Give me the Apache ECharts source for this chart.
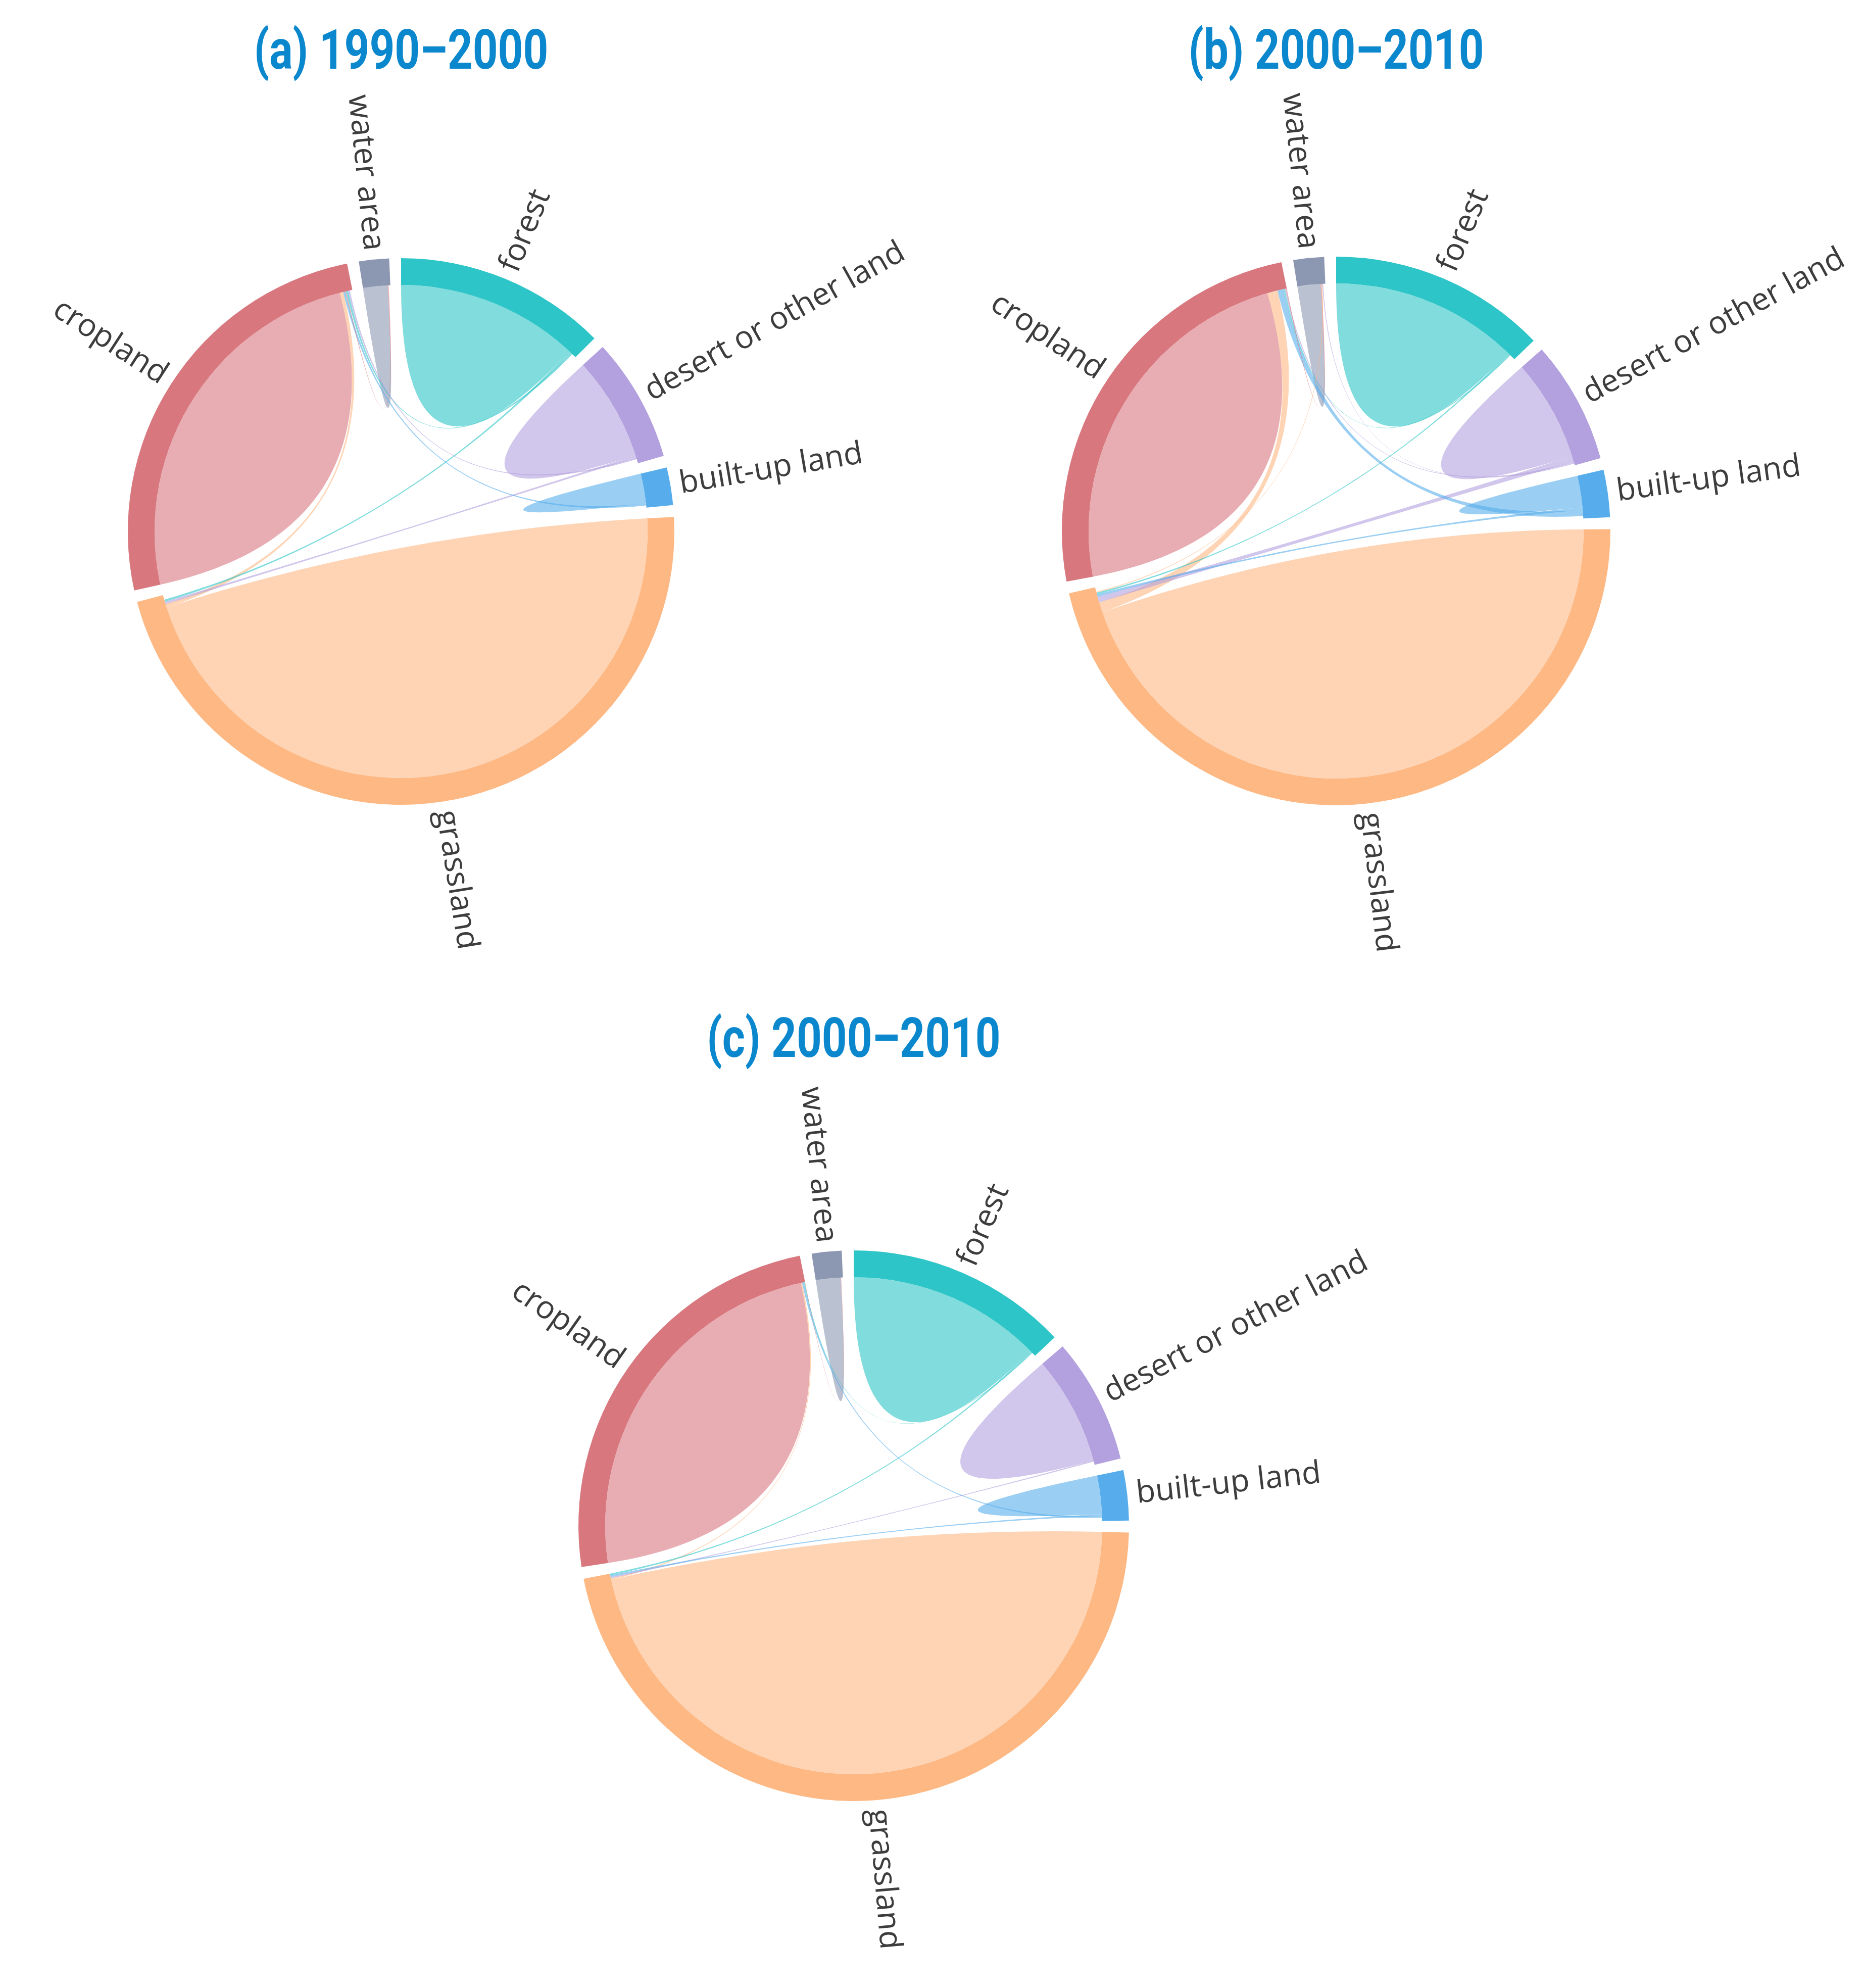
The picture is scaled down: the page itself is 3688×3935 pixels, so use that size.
<!DOCTYPE html>
<html>
<head>
<meta charset="utf-8">
<title>Land use transfer chord diagrams</title>
<script src="https://cdn.jsdelivr.net/npm/echarts@6.0.0/dist/echarts.min.js"></script>
<style>
  html, body { margin: 0; padding: 0; background: #fff; }
  #chart { width: 3688px; height: 3935px; }
</style>
</head>
<body>
<div id="chart"></div>
<script>
const nodeNames = ['forest', 'desert or other land', 'built-up land', 'grassland', 'cropland', 'water area'];
const nodeColors = ['#2DC5C7', '#B3A0DE', '#57ADEB', '#FDB883', '#D8777E', '#8C97B2'];
const titles = ['(a) 1990–2000', '(b) 2000–2010', '(c) 2000–2010'];

// (a) arc size of each land type, then the transfers (self links = unchanged land)
const nodeTotalA = [450, 264, 80, 1680, 910, 64];
const linkFromA = ['forest', 'desert or other land', 'built-up land', 'grassland', 'cropland', 'water area',
  'grassland', 'desert or other land', 'forest', 'built-up land', 'cropland', 'forest', 'desert or other land'];
const linkToA = ['forest', 'desert or other land', 'built-up land', 'grassland', 'cropland', 'water area',
  'cropland', 'grassland', 'grassland', 'cropland', 'water area', 'cropland', 'cropland'];
const linkValueA = [215, 122, 35, 825, 440, 29, 8, 6, 5, 5, 2, 5, 4];

// (b)
const nodeTotalB = [460, 260, 100, 1670, 890, 65];
const linkFromB = ['forest', 'desert or other land', 'built-up land', 'grassland', 'cropland', 'water area',
  'grassland', 'desert or other land', 'built-up land', 'forest', 'built-up land', 'forest',
  'desert or other land', 'cropland', 'grassland', 'desert or other land'];
const linkToB = ['forest', 'desert or other land', 'built-up land', 'grassland', 'cropland', 'water area',
  'cropland', 'grassland', 'grassland', 'grassland', 'cropland', 'cropland',
  'cropland', 'water area', 'water area', 'water area'];
const linkValueB = [220, 119, 37, 805, 422, 27, 24, 13, 6, 4, 14, 3, 3, 2, 2, 2];

// (c)
const nodeTotalC = [469, 265, 106, 1670, 872, 63];
const linkFromC = ['forest', 'desert or other land', 'built-up land', 'grassland', 'cropland', 'water area',
  'grassland', 'desert or other land', 'built-up land', 'forest', 'built-up land', 'forest', 'cropland'];
const linkToC = ['forest', 'desert or other land', 'built-up land', 'grassland', 'cropland', 'water area',
  'cropland', 'grassland', 'grassland', 'grassland', 'cropland', 'cropland', 'water area'];
const linkValueC = [227, 127, 45, 831, 432, 29, 3, 3, 4, 4, 4, 2, 1];

const PAD = 2.5;        // gap between arcs, degrees
const RING = 53;        // ring thickness
const LABEL_GAP = 18;
const PULL = 0.66;      // how far ribbon curves are pulled to the centre
const RIBBON_OPACITY = 0.6;

const panels = [
  { title: titles[0], totals: nodeTotalA, from: linkFromA, to: linkToA, values: linkValueA, cx: 794, cy: 1052, r: 541, titleY: 108 },
  { title: titles[1], totals: nodeTotalB, from: linkFromB, to: linkToB, values: linkValueB, cx: 2645, cy: 1051, r: 543, titleY: 108 },
  { title: titles[2], totals: nodeTotalC, from: linkFromC, to: linkToC, values: linkValueC, cx: 1690, cy: 3020, r: 545, titleY: 2064 }
];

// chord layout: arcs in data order from 12 o'clock, links laid on arcs in list order
function layoutPanel(p) {
  const idx = name => nodeNames.indexOf(name);
  const sums = nodeNames.map(() => 0);
  p.from.forEach((f, i) => {
    sums[idx(f)] += p.values[i];
    sums[idx(p.to[i])] += p.values[i];
  });
  const totals = p.totals.map((t, i) => Math.max(t, sums[i]));
  const all = totals.reduce((a, b) => a + b, 0);
  const unit = (360 - PAD * nodeNames.length) / all;
  const starts = [];
  const spans = [];
  let angle = 0;
  totals.forEach(t => {
    starts.push(angle);
    spans.push(t * unit);
    angle += t * unit + PAD;
  });
  const acc = starts.slice();
  const links = p.from.map((f, i) => {
    const s = idx(f);
    const t = idx(p.to[i]);
    const w = p.values[i] * unit;
    const s0 = acc[s];
    acc[s] += w;
    const t0 = acc[t];
    acc[t] += w;
    return { s, t, s0, s1: s0 + w, t0, t1: t0 + w };
  });
  return { starts, spans, links };
}

function point(p, deg, r) {
  const a = (deg - 90) * Math.PI / 180;
  return [p.cx + r * Math.cos(a), p.cy + r * Math.sin(a)];
}

function ribbonPath(p, l, r0) {
  const fmt = q => q[0].toFixed(2) + ' ' + q[1].toFixed(2);
  const cp = q => fmt([q[0] + PULL * (p.cx - q[0]), q[1] + PULL * (p.cy - q[1])]);
  const arc = (d0, d1) => 'A ' + r0 + ' ' + r0 + ' 0 ' + (d1 - d0 > 180 ? 1 : 0) + ' 1 ' + fmt(point(p, d1, r0));
  const s1 = point(p, l.s0, r0);
  const s2 = point(p, l.s1, r0);
  const t1 = point(p, l.t0, r0);
  const t2 = point(p, l.t1, r0);
  if (l.s === l.t) {
    // unchanged land: one lens over both halves
    return 'M ' + fmt(s1) + ' ' + arc(l.s0, l.t1) + ' C ' + cp(t2) + ' ' + cp(s1) + ' ' + fmt(s1) + ' Z';
  }
  return 'M ' + fmt(s1) + ' ' + arc(l.s0, l.s1) +
    ' C ' + cp(s2) + ' ' + cp(t1) + ' ' + fmt(t1) + ' ' + arc(l.t0, l.t1) +
    ' C ' + cp(t2) + ' ' + cp(s1) + ' ' + fmt(s1) + ' Z';
}

const series = [];
const graphics = [];
panels.forEach(p => {
  const lay = layoutPanel(p);
  const r0 = p.r - RING;
  const items = [];
  lay.links.forEach(l => {
    items.push({
      type: 'path',
      shape: { pathData: ribbonPath(p, l, r0) },
      style: { fill: nodeColors[l.s], opacity: RIBBON_OPACITY }
    });
  });
  nodeNames.forEach((n, i) => {
    items.push({
      type: 'sector',
      shape: {
        cx: p.cx, cy: p.cy, r0: r0, r: p.r,
        startAngle: (lay.starts[i] - 90) * Math.PI / 180,
        endAngle: (lay.starts[i] + lay.spans[i] - 90) * Math.PI / 180,
        clockwise: true
      },
      style: { fill: nodeColors[i] }
    });
  });
  series.push({
    type: 'custom',
    coordinateSystem: 'none',
    silent: true,
    data: items.map((_, i) => [i]),
    renderItem: params => items[params.dataIndex]
  });

  // transparent ring just outside, only used to put the radial labels
  series.push({
    type: 'pie',
    silent: true,
    center: [p.cx, p.cy],
    radius: [p.r, p.r + LABEL_GAP],
    startAngle: 90 + PAD / 2,
    clockwise: true,
    avoidLabelOverlap: false,
    itemStyle: { color: 'rgba(0,0,0,0)' },
    label: {
      show: true,
      position: 'outside',
      rotate: 'radial',
      formatter: '{b}',
      color: '#3d3d3d',
      fontSize: 62,
      fontFamily: "'Open Sans', 'Noto Sans', sans-serif",
      distanceToLabelLine: 0
    },
    labelLine: { show: false, length: 0, length2: 0 },
    data: nodeNames.map((n, i) => ({ name: n, value: lay.spans[i] + PAD }))
  });

  graphics.push({
    type: 'text',
    x: p.cx,
    y: p.titleY,
    scaleX: 0.79,
    style: {
      text: p.title,
      fill: '#0B87CD',
      font: 'bold 110px Roboto, sans-serif',
      textAlign: 'center',
      textVerticalAlign: 'middle'
    }
  });
});

const chart = echarts.init(document.getElementById('chart'));
chart.setOption({
  backgroundColor: '#fff',
  animation: false,
  graphic: graphics,
  series: series
});
</script>
</body>
</html>
